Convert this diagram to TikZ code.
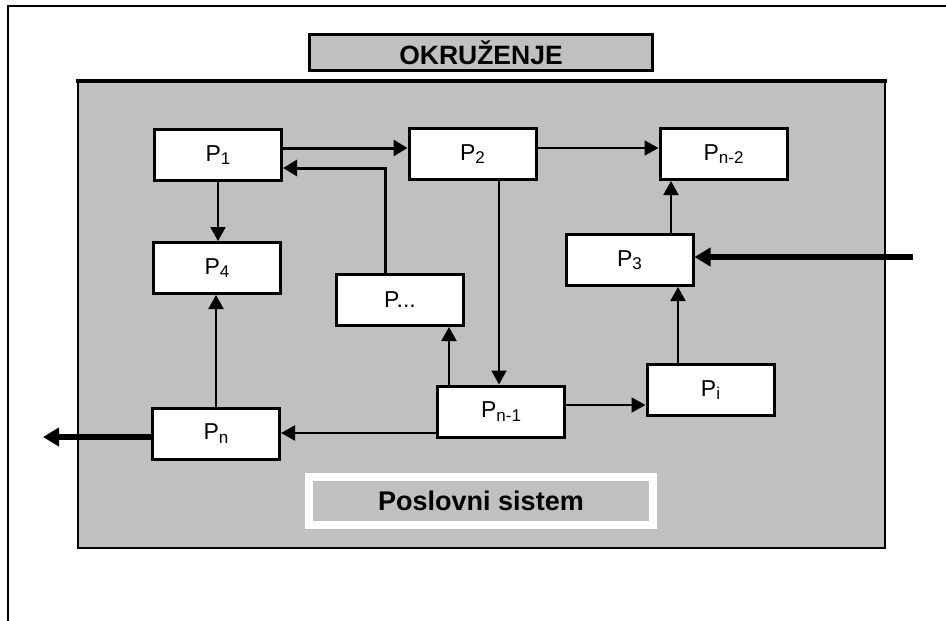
\documentclass[tikz,border=0pt]{standalone}
\usepackage{fontspec}
\setmainfont{Liberation Sans}
\usetikzlibrary{arrows.meta}
\definecolor{panel}{RGB}{192,192,192}
\newcommand{\proc}[1]{\fontsize{23}{23}\selectfont P\raisebox{-3.5pt}{\fontsize{17}{17}\selectfont #1}}
\begin{document}
\begin{tikzpicture}[x=1pt,y=-1pt,
  pbox/.style={draw=black, line width=3pt, fill=white, minimum width=127pt, minimum height=51pt, inner sep=0pt},
  titlebox/.style={draw=black, line width=3pt, fill=panel, minimum width=343pt, minimum height=36pt, inner sep=0pt, font=\fontsize{26.5}{26.5}\selectfont\bfseries},
  flow/.style={line width=2pt, -{Triangle[length=14pt,width=15pt]}},
  mainflow/.style={line width=3pt, -{Triangle[length=14pt,width=16pt]}},
  bigflow/.style={line width=6pt, -{Triangle[length=16pt,width=18pt]}}
]
\useasboundingbox (0,0) rectangle (946,621);
\fill[white] (0,0) rectangle (946,621);

% open outer frame
\draw[line width=2pt] (8,621) -- (8,6) -- (946,6);

% environment label
\node[titlebox] (env) at (481,52.5) {OKRUŽENJE};

% business system panel
\node[draw=black, line width=2pt, fill=panel, minimum width=807pt, minimum height=466pt, inner sep=0pt] (system) at (481.5,315) {};
\draw[line width=4pt] ([xshift=-1pt]system.north west) -- ([xshift=1pt]system.north east);

\node[draw=white, line width=8pt, fill=panel, minimum width=344pt, minimum height=48pt, inner sep=0pt,
      font=\fontsize{27}{27}\selectfont\bfseries] (label) at (481,501) {Poslovni sistem};

% processes
\node[pbox] (p1)    at (218,155)    {\proc{1}};
\node[pbox] (p2)    at (472.5,154)  {\proc{2}};
\node[pbox] (pn2)   at (723.5,154)  {\proc{n-2}};
\node[pbox] (p4)    at (217,268)    {\proc{4}};
\node[pbox] (pdots) at (400,300)    {\fontsize{23}{23}\selectfont P...};
\node[pbox] (p3)    at (629.5,260)  {\proc{3}};
\node[pbox] (pn1)   at (501,411.5)  {\proc{n-1}};
\node[pbox] (pi)    at (710.5,390)  {\proc{i}};
\node[pbox] (pn)    at (216,433.5)  {\proc{n}};

% connections
\draw[mainflow] ([yshift=7pt]p1.east) coordinate (a) -- (a -| p2.west);
\draw[mainflow] ([xshift=-15pt]pdots.north) |- ([yshift=-13pt]p1.east);
\draw[flow] (p1.south) -- (p1.south |- p4.north);
\draw[flow] ([yshift=6pt]p2.east) coordinate (b) -- (b -| pn2.west);
\draw[flow] ([xshift=26.5pt]p2.south) coordinate (c) -- (c |- pn1.north);
\draw[flow] ([xshift=-52pt]pn1.north) coordinate (d) -- (d |- pdots.south);
\draw[flow] ([yshift=6.5pt]pn1.east) coordinate (e) -- (e -| pi.west);
\draw[flow] ([yshift=-21.5pt]pn1.west) coordinate (f) -- (f -| pn.east);
\draw[flow] (pn.north) -- (pn.north |- p4.south);
\draw[flow] ([xshift=-32.5pt]pi.north) coordinate (g) -- (g |- p3.south);
\draw[flow] ([xshift=41.5pt]p3.north) coordinate (h) -- (h |- pn2.south);

% exchange with the environment
\coordinate (input) at (913,257);
\coordinate (output) at (43,437);
\draw[bigflow] (input) -- (input -| p3.east);
\draw[bigflow] (output -| pn.west) -- (output);
\end{tikzpicture}
\end{document}
